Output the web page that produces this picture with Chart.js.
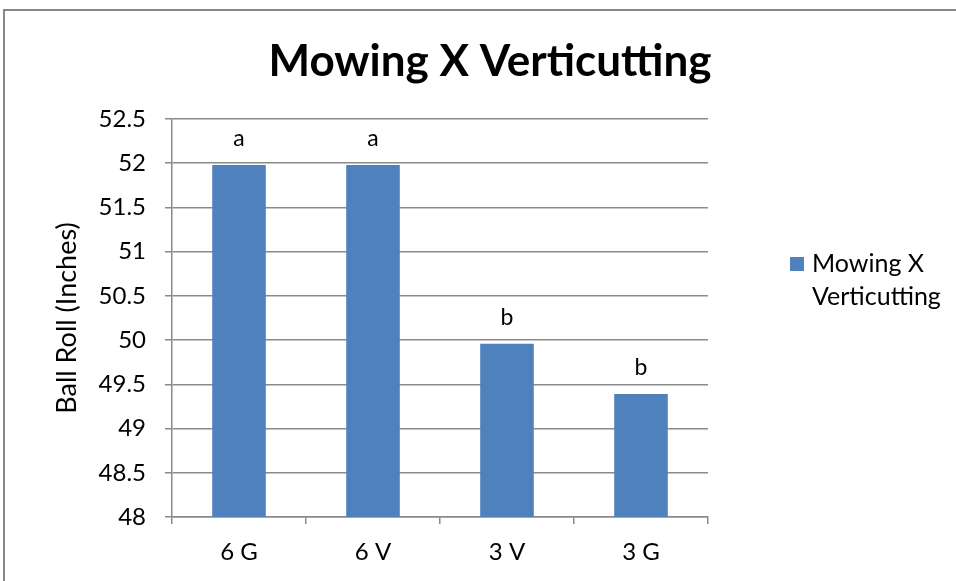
<!DOCTYPE html>
<html>
<head>
<meta charset="utf-8">
<script src="https://cdn.jsdelivr.net/npm/chart.js@4.4.1/dist/chart.umd.min.js"></script>
<style>
  html, body { margin: 0; padding: 0; background: #fff; }
  #wrap { width: 956px; height: 581px; position: relative; }
</style>
</head>
<body>
<div id="wrap"><canvas id="chart"></canvas></div>
<script>
// data
const categories = ["6 G", "6 V", "3 V", "3 G"];
const ballRoll = [51.98, 51.98, 49.96, 49.39];
const letters = ["a", "a", "b", "b"];
const seriesName = "Mowing X Verticutting";
const legendLines = ["Mowing X", "Verticutting"];
const yMin = 48, yMax = 52.5, yStep = 0.5;

const FONT = "Lato, 'Open Sans', sans-serif";
const GRID = "#8a8a8a";

// border round the whole chart + the title, centred on the whole chart
const frame = {
  id: "frame",
  beforeDraw(chart) {
    const ctx = chart.ctx;
    ctx.save();
    ctx.strokeStyle = "#878787";
    ctx.lineWidth = 2;
    ctx.strokeRect(4, 10, chart.width + 20, chart.height + 20);
    ctx.font = "bold 44px " + FONT;
    ctx.fillStyle = "#000";
    ctx.textAlign = "center";
    ctx.textBaseline = "middle";
    ctx.fillText(seriesName, 490, 62);
    ctx.restore();
  }
};

// the significance letters over each bar
const barLetters = {
  id: "barLetters",
  afterDatasetsDraw(chart) {
    const ctx = chart.ctx;
    const meta = chart.getDatasetMeta(0);
    ctx.save();
    ctx.font = "23px " + FONT;
    ctx.fillStyle = "#000";
    ctx.textAlign = "center";
    ctx.textBaseline = "middle";
    meta.data.forEach((bar, i) => {
      ctx.fillText(letters[i], bar.x, bar.y - 26);
    });
    ctx.restore();
  }
};

// legend on the right, wrapped on two lines like the original
const sideLegend = {
  id: "sideLegend",
  afterDraw(chart) {
    const ctx = chart.ctx;
    const ds = chart.data.datasets[0];
    ctx.save();
    ctx.fillStyle = ds.backgroundColor;
    ctx.fillRect(790, 257, 14, 14);
    ctx.font = "25px " + FONT;
    ctx.fillStyle = "#000";
    ctx.textBaseline = "middle";
    legendLines.forEach((t, i) => ctx.fillText(t, 812, 264 + i * 33));
    ctx.restore();
  }
};

new Chart(document.getElementById("chart"), {
  type: "bar",
  data: {
    labels: categories,
    datasets: [{
      label: seriesName,
      data: ballRoll,
      backgroundColor: "#4f81bd",
      borderWidth: 0,
      categoryPercentage: 1,
      barPercentage: 0.4
    }]
  },
  options: {
    responsive: true,
    maintainAspectRatio: false,
    animation: false,
    layout: { padding: { top: 119, right: 248, bottom: 0, left: 10 } },
    plugins: {
      legend: { display: false },
      tooltip: { enabled: false },
      title: { display: false }
    },
    scales: {
      x: {
        grid: { drawOnChartArea: false, drawTicks: true, tickLength: 7, color: GRID, lineWidth: 1.5 },
        border: { color: GRID, width: 1.5 },
        ticks: { color: "#000", font: { family: FONT, size: 24 }, padding: 14 },
        afterFit(scale) { scale.height = 64; }
      },
      y: {
        min: yMin,
        max: yMax,
        ticks: {
          stepSize: yStep,
          color: "#000",
          font: { family: FONT, size: 24 },
          padding: 19,
          callback: (v) => String(v)
        },
        grid: { color: GRID, lineWidth: 1.5, tickLength: 7 },
        border: { color: GRID, width: 1.5 },
        title: {
          display: true,
          text: "Ball Roll (Inches)",
          color: "#000",
          font: { family: FONT, size: 27 },
          padding: { top: 41, bottom: 0 }
        },
        afterFit(scale) { scale.width = 162; }
      }
    }
  },
  plugins: [frame, barLetters, sideLegend]
});
</script>
</body>
</html>
